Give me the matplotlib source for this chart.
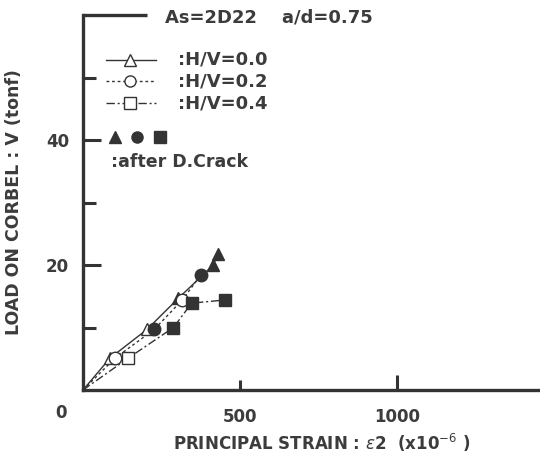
import matplotlib
matplotlib.use("Agg")
import matplotlib.pyplot as plt

# data (strain x10^-6, load tonf); True = marker filled (after diagonal crack)
hv00_x = [86, 204, 304, 415, 429]
hv00_y = [5.1, 9.7, 14.7, 20.0, 21.8]
hv00_f = [False, False, True, True, True]

hv02_x = [102, 227, 316, 375]
hv02_y = [5.1, 9.7, 14.4, 18.4]
hv02_f = [False, True, False, True]

hv04_x = [144, 288, 346, 452]
hv04_y = [5.1, 10.0, 13.9, 14.4]
hv04_f = [False, True, True, True]

xticks = [500, 1000]
yticks = [20, 40]

W, H = 540, 459
ink = "#333333"
txt = "#3c3c3c"

def fx(px):
    return px / W

def fy(py):
    return 1 - py / H

fig = plt.figure(figsize=(5.4, 4.59), dpi=100)
ax = fig.add_axes([fx(83), fy(390), fx(540) - fx(83), fy(15) - fy(390)])
ax.set_xlim(0, 1455)
ax.set_ylim(0, 60)

series = [
    (hv00_x, hv00_y, hv00_f, "^", "-"),
    (hv02_x, hv02_y, hv02_f, "o", (0, (2, 2))),
    (hv04_x, hv04_y, hv04_f, "s", (0, (6, 2, 1.5, 2))),
]
for xs, ys, fl, mk, ls in series:
    ax.plot([0] + xs, [0] + ys, color=ink, lw=1.0, linestyle=ls, zorder=2)
    for x, y, f in zip(xs, ys, fl):
        ax.plot([x], [y], marker=mk, ms=9, mec=ink, mew=1.0,
                mfc=ink if f else "white", linestyle="none", zorder=3)

for s in ["top", "right"]:
    ax.spines[s].set_visible(False)
for s in ["left", "bottom"]:
    ax.spines[s].set_linewidth(2.4)
    ax.spines[s].set_color(ink)
# short top bar
ax.plot([0, 205], [60, 60], color=ink, lw=2.4, clip_on=False, solid_capstyle="butt")

ax.set_xticks(xticks[1:])
ax.set_xticks(xticks[:1], minor=True)
ax.set_xticklabels(["1000"])
ax.set_xticklabels(["500"], minor=True)
ax.tick_params(axis="x", which="major", direction="in", length=11, width=2.2, color=ink, pad=13)
ax.tick_params(axis="x", which="minor", direction="in", length=7, width=2.2, color=ink, pad=13)
ax.set_yticks(yticks)
ax.set_yticks([10, 30, 50], minor=True)
ax.tick_params(axis="y", which="major", direction="in", length=13, width=2.2, color=ink, pad=10)
ax.tick_params(axis="y", which="minor", direction="in", length=9, width=2.2, color=ink)
for lab in ax.get_xticklabels(which="both") + ax.get_yticklabels():
    lab.set_fontsize(12)
    lab.set_fontweight("bold")
    lab.set_color(txt)
ax.text(-70, -2.2, "0", ha="center", va="top", fontsize=12, fontweight="bold", color=txt, clip_on=False)

ax.set_ylabel("LOAD ON CORBEL : V (tonf)", fontsize=12.5, fontweight="bold", color=txt)
ax.yaxis.set_label_coords(-0.131, 0.50)
ax.set_xlabel(r"PRINCIPAL STRAIN : $\varepsilon$2  (x10$^{-6}$ )", fontsize=12, fontweight="bold", color=txt)
ax.xaxis.set_label_coords(0.522, -0.112)

fig.text(fx(165), fy(17), "As=2D22    a/d=0.75", fontsize=13, fontweight="bold", color=txt, va="center")

rows = [("^", "-", ":H/V=0.0", 60), ("o", (0, (2, 2)), ":H/V=0.2", 81), ("s", (0, (6, 2, 1.5, 2)), ":H/V=0.4", 103)]
for mk, ls, lab, py in rows:
    fig.add_artist(plt.Line2D([fx(106), fx(130), fx(156)], [fy(py)] * 3, color=ink, lw=1.0,
                              linestyle=ls, marker=mk, markevery=[1], ms=8, mfc="white", mec=ink))
    fig.text(fx(178), fy(py), lab, fontsize=13, fontweight="bold", color=txt, va="center")

for mk, px in [("^", 115), ("o", 137), ("s", 160)]:
    fig.add_artist(plt.Line2D([fx(px)], [fy(137)], marker=mk, ms=8, color=ink, linestyle="none"))
fig.text(fx(111), fy(162), ":after D.Crack", fontsize=12.5, fontweight="bold", color=txt, va="center")

fig.savefig("out.png", dpi=100)
